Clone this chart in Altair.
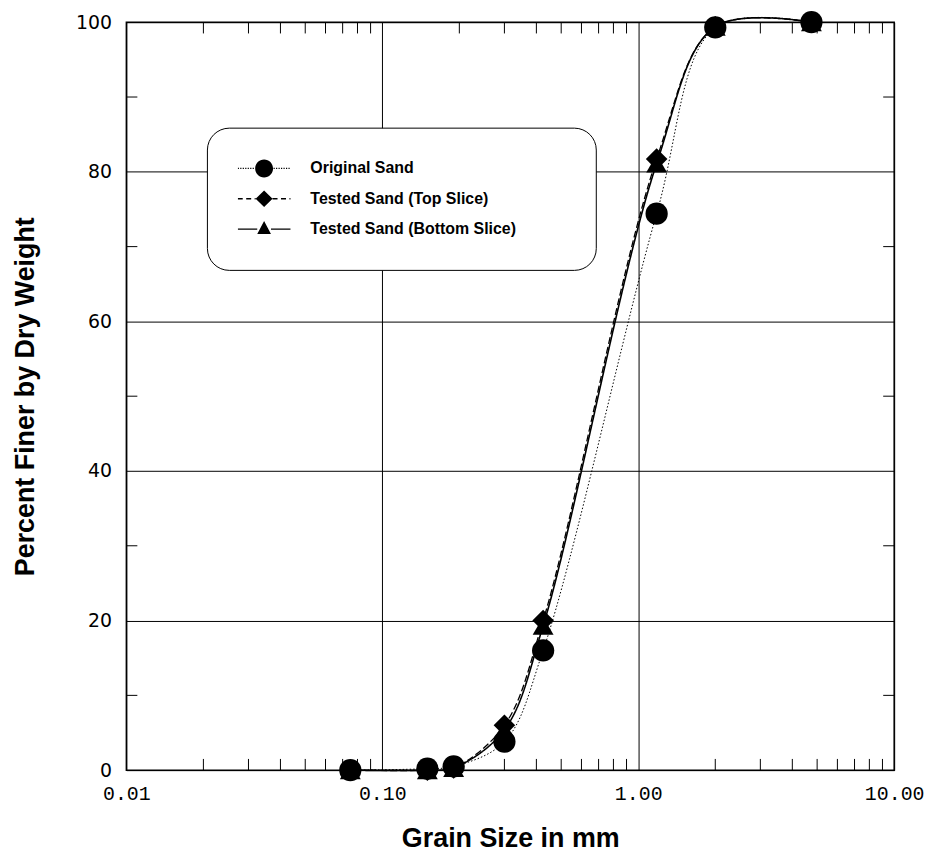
import altair as alt
import pandas as pd

# ---- data ----
grain_size_mm = [0.075, 0.15, 0.19, 0.3, 0.425, 1.18, 2.0, 4.75]
original_sand = [0.0, 0.2, 0.5, 3.8, 16.0, 74.4, 99.3, 100.0]
top_slice = [0.0, 0.0, 0.3, 6.0, 20.0, 81.7, 99.4, 100.0]
bottom_slice = [0.0, 0.0, 0.3, 5.4, 19.3, 81.1, 99.4, 100.0]

series_names = ["Original Sand", "Tested Sand (Top Slice)", "Tested Sand (Bottom Slice)"]

x_tick_values = [0.01, 0.1, 1, 10]
y_tick_values = [0, 20, 40, 60, 80, 100]
x_minor_ticks = [0.02, 0.03, 0.04, 0.05, 0.06, 0.07, 0.08, 0.09,
                 0.2, 0.3, 0.4, 0.5, 0.6, 0.7, 0.8, 0.9,
                 2, 3, 4, 5, 6, 7, 8, 9]
y_minor_ticks = [10, 30, 50, 70, 90]

# ---- tables ----
rows = []
for name, vals in [(series_names[2], bottom_slice), (series_names[1], top_slice), (series_names[0], original_sand)]:
    for s, v in zip(grain_size_mm, vals):
        rows.append({"series": name, "size": s, "pct": v})
df = pd.DataFrame(rows)

tick_rows = []
for v in x_minor_ticks:
    tick_rows.append({"size": v, "size2": v, "pct": 0, "pct2": 1.5})
    tick_rows.append({"size": v, "size2": v, "pct": 100, "pct2": 98.5})
for v in y_minor_ticks:
    tick_rows.append({"size": 0.01, "size2": 0.01104, "pct": v, "pct2": v})
    tick_rows.append({"size": 10, "size2": 9.06, "pct": v, "pct2": v})
ticks_df = pd.DataFrame(tick_rows)

xscale = alt.Scale(type="log", domain=[0.01, 10], nice=False)
yscale = alt.Scale(domain=[0, 100], nice=False, zero=False)

dash_scale = alt.Scale(domain=series_names, range=[[1.5, 2], [7, 3], [1, 0]])

x_axis = alt.Axis(values=x_tick_values, format=".2f", grid=True, ticks=False, domain=False,
                  labelFont="Liberation Mono", labelFontSize=20, labelColor="black",
                  labelPadding=14, title="Grain Size in mm", titleFont="Liberation Sans",
                  titleFontSize=27, titleFontWeight="bold", titleColor="black", titlePadding=22,
                  labelFlush=False)
y_axis = alt.Axis(values=y_tick_values, grid=True, ticks=False, domain=False,
                  labelFont="DejaVu Sans", labelFontSize=19, labelColor="black",
                  labelPadding=15, title="Percent Finer by Dry Weight", titleFont="Liberation Sans",
                  titleFontSize=27, titleFontWeight="bold", titleColor="black", titlePadding=36,
                  labelFlush=False)

X = alt.X("size:Q", scale=xscale, axis=x_axis)
Y = alt.Y("pct:Q", scale=yscale, axis=y_axis)

lines = alt.Chart(df).mark_line(interpolate="catmull-rom", color="black", clip=False).encode(
    x=X, y=Y,
    detail="series:N",
    strokeDash=alt.StrokeDash("series:N", scale=dash_scale, legend=None),
    strokeWidth=alt.StrokeWidth("series:N", scale=alt.Scale(domain=series_names, range=[1.0, 1.6, 1.3]), legend=None),
)

points = alt.Chart(df).mark_point(filled=True, color="black", opacity=1).encode(
    x=X, y=Y,
    shape=alt.Shape("series:N", scale=alt.Scale(domain=series_names, range=["circle", "diamond", "triangle-up"]), legend=None),
    size=alt.Size("series:N", scale=alt.Scale(domain=series_names, range=[500, 440, 470]), legend=None),
)

# ---- legend symbols: line sample + marker, drawn as filled paths ----
K = 26.5  # pixels per unit of the symbol path (sqrt(symbolSize)/2)


def seg(x0, x1, dash, gap, th=0.65):
    out = []
    x = x0
    while x < x1 - 0.01:
        xe = min(x + dash, x1)
        a, b, t = x / K, xe / K, th / K
        out.append(f"M{a:.4f},{-t:.4f}L{b:.4f},{-t:.4f}L{b:.4f},{t:.4f}L{a:.4f},{t:.4f}Z")
        x = xe + gap
    return "".join(out)


def line_sample(inner, dash, gap):
    left = seg(-K, -inner, dash, gap)
    right = seg(inner, K, dash, gap)
    return left + right


circle_r = 9 / K
circle_path = (line_sample(9.5, 1.2, 1.3) +
               f"M{-circle_r:.4f},0A{circle_r:.4f},{circle_r:.4f},0,1,1,{circle_r:.4f},0"
               f"A{circle_r:.4f},{circle_r:.4f},0,1,1,{-circle_r:.4f},0Z")
diamond_path = (line_sample(8.5, 5, 3.5) +
                "M-0.32,0L0,-0.31L0.32,0L0,0.31Z")
triangle_path = (line_sample(6.9, 100, 0) +
                 "M0,-0.31L0.26,0.19L-0.26,0.19Z")
legend_paths = [circle_path, diamond_path, triangle_path]

pad_chars = "\u00a0" * 11 + "\u200b"
legend_kwargs = dict(orient="none", legendX=81, legendY=106, title=None, symbolOpacity=1,
                     symbolSize=(2 * K) ** 2, symbolStrokeWidth=0, symbolFillColor="black",
                     labelFont="Liberation Sans", labelFontSize=16,
                     labelFontWeight="bold", labelColor="black", labelLimit=600, clipHeight=20,
                     rowPadding=10.5, padding=31, labelOffset=20,
                     labelExpr="datum.label + '" + pad_chars + "'")

legend_layer = alt.Chart(df).mark_point(filled=True, color="black", opacity=0).encode(
    x=X, y=Y,
    shape=alt.Shape("series:N", scale=alt.Scale(domain=series_names, range=legend_paths),
                    legend=alt.Legend(**legend_kwargs)),
)

minor = alt.Chart(ticks_df).mark_rule(color="black", strokeWidth=1).encode(
    x=X, x2="size2:Q",
    y=Y, y2="pct2:Q",
)

chart = alt.layer(minor, lines, points, legend_layer).resolve_scale(
    shape="independent"
).properties(
    width=772, height=752, background="white",
    autosize=alt.AutoSizeParams(type="none"),
    padding={"left": 119, "top": 12, "right": 32, "bottom": 84}
).configure_view(
    stroke="black", strokeWidth=1.5
).configure_axis(
    gridColor="black", gridOpacity=1, gridWidth=1
).configure_legend(
    strokeColor="black", fillColor="white", cornerRadius=22, strokeWidth=1
)

chart.save("out.html", embed_options={"renderer": "svg", "actions": False})
